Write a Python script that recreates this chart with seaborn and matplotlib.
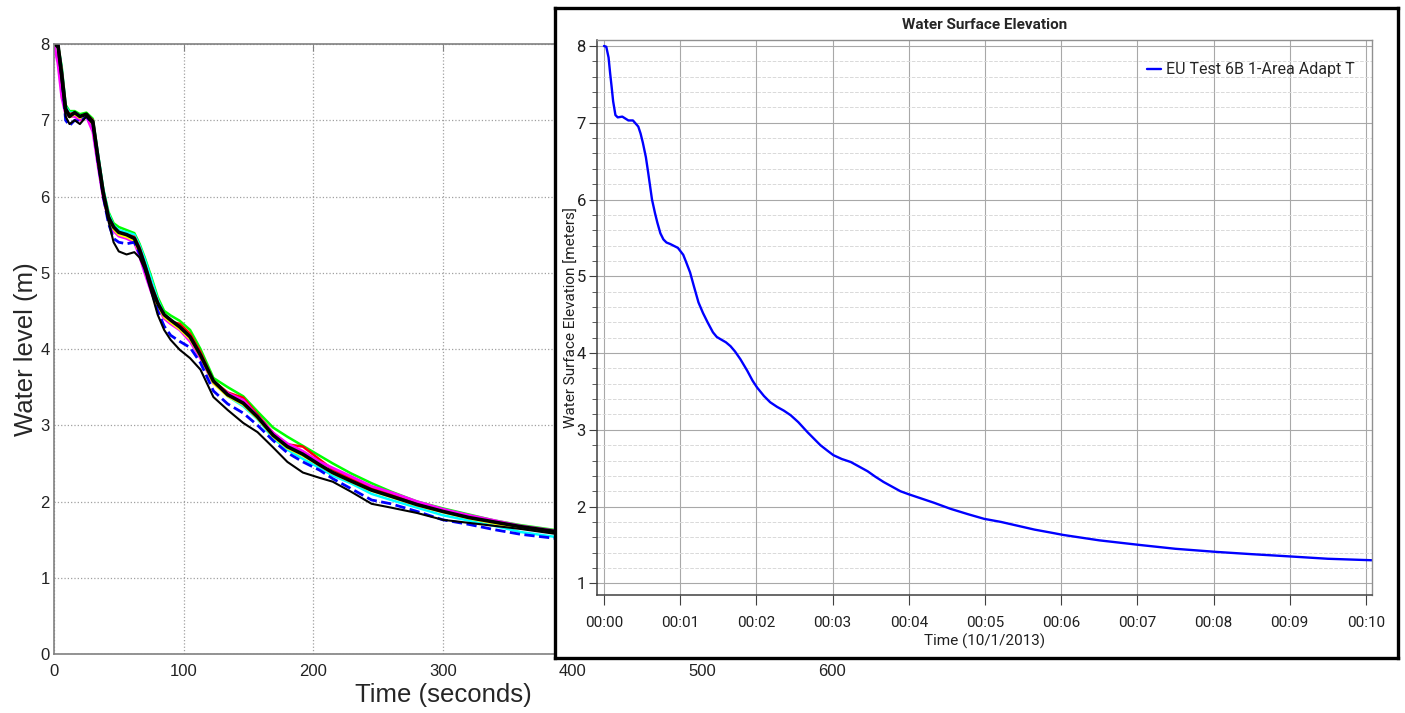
import matplotlib
matplotlib.use("Agg")
import matplotlib.pyplot as plt
import seaborn as sns
from matplotlib.ticker import MultipleLocator

sns.set_style("white")
plt.rcParams['font.family'] = ['Liberation Sans', 'DejaVu Sans']

# ---- left panel: water level runs (time in seconds) ----
t_sec = [0, 3, 6, 9, 12, 16, 20, 25, 30, 34, 38, 42, 46, 50, 56, 62, 66, 70, 75, 80,
         85, 90, 97, 105, 113, 123, 134, 146, 157, 169, 180, 192, 205, 215, 229, 245,
         260, 280, 300, 320, 340, 360, 385, 420]

run_green = [8.0, 8.0, 7.7, 7.2, 7.12, 7.12, 7.08, 7.1, 7.02, 6.55,
             6.1, 5.8, 5.65, 5.6, 5.56, 5.52, 5.38, 5.2, 4.95, 4.68,
             4.5, 4.44, 4.37, 4.25, 4.0, 3.62, 3.5, 3.38, 3.18, 2.97,
             2.85, 2.73, 2.6, 2.5, 2.37, 2.24, 2.13, 2.0, 1.91, 1.83,
             1.75, 1.69, 1.63, 1.57]
run_cyan = [8.0, 8.0, 7.68, 7.18, 7.1, 7.1, 7.06, 7.08, 7.0, 6.55,
            6.1, 5.78, 5.62, 5.56, 5.53, 5.5, 5.36, 5.18, 4.92, 4.65,
            4.45, 4.38, 4.3, 4.18, 3.95, 3.57, 3.38, 3.25, 3.08, 2.83,
            2.68, 2.56, 2.44, 2.34, 2.24, 2.1, 2.02, 1.92, 1.82, 1.75,
            1.68, 1.6, 1.54, 1.5]
run_red = [8.0, 8.0, 7.65, 7.15, 7.08, 7.1, 7.05, 7.08, 7.0, 6.52,
           6.07, 5.75, 5.58, 5.52, 5.5, 5.47, 5.33, 5.12, 4.85, 4.62,
           4.42, 4.36, 4.33, 4.2, 3.96, 3.58, 3.43, 3.36, 3.14, 2.9,
           2.75, 2.72, 2.55, 2.42, 2.3, 2.18, 2.1, 1.98, 1.88, 1.8,
           1.73, 1.67, 1.6, 1.55]
run_magenta = [8.0, 7.75, 7.3, 7.08, 7.05, 7.05, 7.0, 7.05, 6.85, 6.4,
               5.98, 5.7, 5.55, 5.48, 5.45, 5.4, 5.22, 5.0, 4.75, 4.55,
               4.4, 4.33, 4.25, 4.1, 3.88, 3.55, 3.42, 3.33, 3.12, 2.9,
               2.76, 2.66, 2.52, 2.44, 2.33, 2.2, 2.12, 2.0, 1.9, 1.82,
               1.75, 1.68, 1.62, 1.56]
run_yellow = [8.0, 8.0, 7.62, 7.12, 7.04, 7.08, 7.03, 7.06, 6.95, 6.48,
              6.02, 5.7, 5.57, 5.5, 5.47, 5.42, 5.27, 5.07, 4.8, 4.57,
              4.42, 4.35, 4.26, 4.13, 3.9, 3.55, 3.38, 3.27, 3.09, 2.85,
              2.7, 2.6, 2.47, 2.37, 2.26, 2.14, 2.06, 1.95, 1.86, 1.78,
              1.71, 1.65, 1.6, 1.54]
run_blue = [8.0, 8.0, 7.6, 7.0, 6.93, 7.0, 6.98, 7.05, 6.95, 6.45,
            6.0, 5.65, 5.45, 5.4, 5.38, 5.4, 5.25, 5.05, 4.78, 4.5,
            4.3, 4.18, 4.1, 4.02, 3.82, 3.45, 3.28, 3.16, 3.0, 2.8,
            2.64, 2.52, 2.41, 2.3, 2.17, 2.02, 1.97, 1.87, 1.76, 1.7,
            1.63, 1.57, 1.52, 1.47]
run_black_thin = [8.0, 7.95, 7.5, 7.05, 6.95, 7.0, 6.95, 7.05, 6.95, 6.45,
                  6.0, 5.68, 5.4, 5.28, 5.24, 5.27, 5.2, 5.05, 4.75, 4.45,
                  4.25, 4.12, 3.99, 3.88, 3.73, 3.37, 3.2, 3.03, 2.91, 2.71,
                  2.52, 2.38, 2.31, 2.26, 2.13, 1.97, 1.92, 1.85, 1.76, 1.72,
                  1.68, 1.64, 1.58, 1.53]
run_black = [8.0, 8.0, 7.6, 7.15, 7.05, 7.1, 7.05, 7.08, 6.98, 6.5,
             6.05, 5.73, 5.6, 5.53, 5.5, 5.45, 5.3, 5.1, 4.82, 4.6,
             4.45, 4.38, 4.29, 4.16, 3.92, 3.58, 3.4, 3.29, 3.11, 2.87,
             2.72, 2.62, 2.48, 2.38, 2.27, 2.15, 2.07, 1.96, 1.87, 1.79,
             1.73, 1.67, 1.61, 1.55]

# ---- right panel: HEC-RAS water surface elevation (time in minutes) ----
t_min = [0, 0.03, 0.06, 0.08, 0.1, 0.12, 0.15, 0.18, 0.24, 0.32, 0.38, 0.45,
         0.48, 0.51, 0.55, 0.58, 0.63, 0.67, 0.7, 0.74, 0.78, 0.82, 0.87, 0.97,
         1.04, 1.08, 1.13, 1.18, 1.24, 1.3, 1.36, 1.43, 1.48, 1.53, 1.6, 1.66,
         1.72, 1.79, 1.88, 1.95, 2.01, 2.1, 2.18, 2.27, 2.36, 2.45, 2.55, 2.67,
         2.76, 2.84, 2.93, 3.01, 3.12, 3.24, 3.35, 3.46, 3.56, 3.67, 3.78, 3.89,
         4.0, 4.12, 4.33, 4.55, 4.78, 4.99, 5.21, 5.43, 5.65, 5.87, 6.03, 6.5,
         7.03, 7.5, 8.03, 8.5, 9.01, 9.5, 10.1]
wse = [8.0, 7.99, 7.85, 7.65, 7.47, 7.28, 7.1, 7.07, 7.08, 7.03, 7.03, 6.95,
       6.86, 6.74, 6.55, 6.35, 6.0, 5.82, 5.7, 5.56, 5.48, 5.44, 5.42, 5.37,
       5.28, 5.18, 5.05, 4.87, 4.66, 4.52, 4.4, 4.27, 4.21, 4.18, 4.14, 4.09,
       4.02, 3.92, 3.77, 3.64, 3.55, 3.44, 3.36, 3.3, 3.25, 3.19, 3.1, 2.97,
       2.88, 2.8, 2.73, 2.67, 2.62, 2.58, 2.52, 2.46, 2.39, 2.32, 2.26, 2.2,
       2.16, 2.12, 2.05, 1.97, 1.9, 1.84, 1.8, 1.75, 1.7, 1.66, 1.63, 1.56,
       1.5, 1.45, 1.41, 1.38, 1.35, 1.32, 1.3]
time_labels = ["00:00", "00:01", "00:02", "00:03", "00:04", "00:05",
               "00:06", "00:07", "00:08", "00:09", "00:10"]

fig = plt.figure(figsize=(14.05, 7.13), dpi=100)

# left (matlab style) axes
ax1 = fig.add_axes([0.0384, 0.0827, 0.5537, 0.8556])
runs = [(run_green, '#00ff00', 1.8, '-'),
        (run_cyan, '#00ffff', 1.8, '-'),
        (run_red, '#ff0000', 1.8, '-'),
        (run_magenta, '#ff00ff', 2.0, '-'),
        (run_yellow, '#ffff00', 1.8, '-'),
        (run_blue, '#0000ff', 2.0, '--'),
        (run_black_thin, 'black', 1.5, '-'),
        (run_black, 'black', 2.6, '-')]
for vals, col, lw, ls in runs:
    sns.lineplot(x=t_sec, y=vals, ax=ax1, color=col, linewidth=lw, linestyle=ls)

ax1.set_xlim(0, 600)
ax1.set_ylim(0, 8)
ax1.set_xticks(range(0, 601, 100))
ax1.set_yticks(range(0, 9))
ax1.grid(True, linestyle=':', color='#a0a0a0', linewidth=0.9)
for s in ax1.spines.values():
    s.set_color('#808080')
    s.set_linewidth(1.2)
ax1.tick_params(direction='in', length=5, color='#808080', labelsize=12,
                labelcolor='#222222', top=True, right=True)
ax1.tick_params(axis='x', pad=7)
ax1.tick_params(axis='y', pad=3)
ax1.set_xlabel("Time (seconds)", fontsize=18.5, labelpad=3)
ax1.set_ylabel("Water level (m)", fontsize=18.5, labelpad=2)

# framed inset panel on top
bg = fig.add_axes([0.395, 0.0771, 0.6, 0.9116])
bg.set_zorder(5)
bg.set_facecolor('white')
bg.set_xticks([])
bg.set_yticks([])
for s in bg.spines.values():
    s.set_color('black')
    s.set_linewidth(2.4)

narrow = ['Roboto', 'DejaVu Sans']
ax2 = fig.add_axes([0.4249, 0.1655, 0.5516, 0.7784])
ax2.set_zorder(6)
sns.lineplot(x=t_min, y=wse, ax=ax2, color='#0000ff', linewidth=1.7,
             label="EU Test 6B 1-Area Adapt T")
ax2.set_xlim(-0.092, 10.08)
ax2.set_ylim(0.848, 8.078)
ax2.set_xticks(range(11))
ax2.set_xticklabels(time_labels)
ax2.yaxis.set_major_locator(MultipleLocator(1))
ax2.yaxis.set_minor_locator(MultipleLocator(0.2))
ax2.grid(which='major', color='#a8a8a8', linewidth=0.8, linestyle='-')
ax2.grid(which='minor', axis='y', color='#d9d9d9', linewidth=0.7, linestyle='--')
ax2.set_axisbelow(True)
for side in ['left', 'bottom']:
    ax2.spines[side].set_color('#404040')
    ax2.spines[side].set_linewidth(1.1)
for side in ['top', 'right']:
    ax2.spines[side].set_color('#909090')
    ax2.spines[side].set_linewidth(1.0)
ax2.tick_params(axis='x', direction='out', length=7, color='#404040', pad=8,
                bottom=True)
ax2.tick_params(axis='y', which='major', direction='out', length=6, color='#404040',
                pad=2, left=True)
ax2.tick_params(axis='y', which='minor', direction='out', length=3.5, color='#404040',
                left=True)
for lab in ax2.get_xticklabels():
    lab.set_family(narrow)
    lab.set_fontsize(11)
    lab.set_color('#202020')
for lab in ax2.get_yticklabels():
    lab.set_family(narrow)
    lab.set_fontsize(12)
    lab.set_color('#202020')
ax2.set_title("Water Surface Elevation", fontsize=11, fontweight='bold',
              family=narrow, pad=8)
ax2.set_xlabel("Time (10/1/2013)", fontsize=11, family=narrow, labelpad=3,
               color='#202020')
ax2.set_ylabel("Water Surface Elevation [meters]", fontsize=11, family=narrow,
               labelpad=-2, color='#202020')
leg = ax2.legend(loc='center right', bbox_to_anchor=(0.978, 0.946), frameon=False,
                 borderaxespad=0, borderpad=0, handlelength=0.9, handletextpad=0.3,
                 prop={'family': narrow, 'size': 11.5})

fig.savefig("out.png", dpi=100)
